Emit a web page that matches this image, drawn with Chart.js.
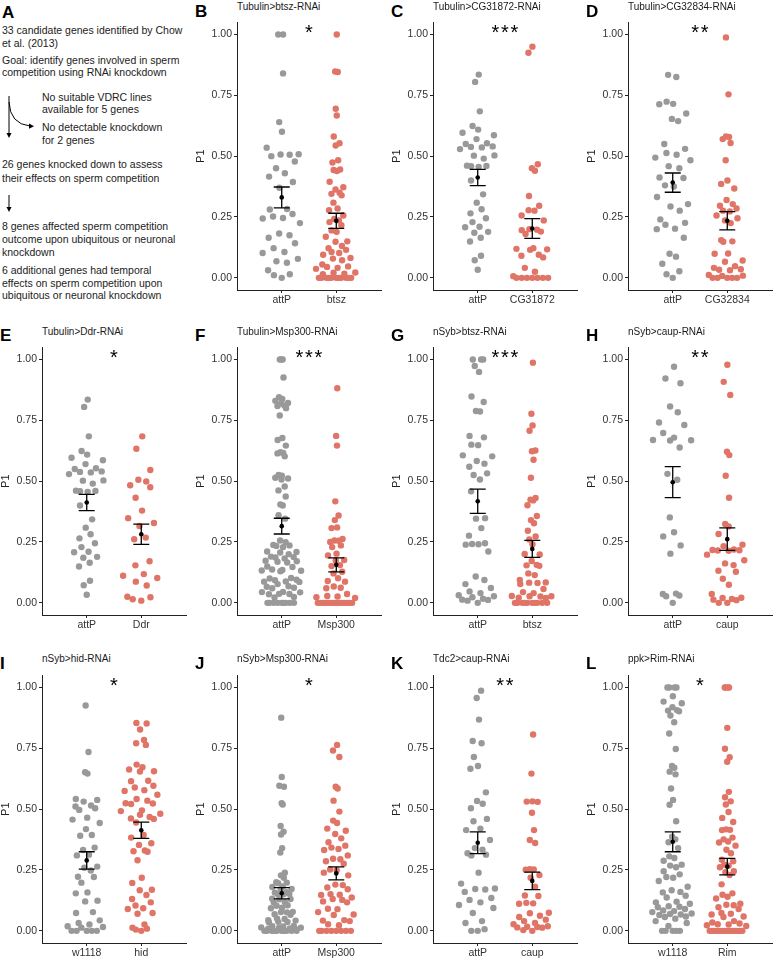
<!DOCTYPE html>
<html>
<head>
<meta charset="utf-8">
<script src="https://cdn.jsdelivr.net/npm/chart.js@4/dist/chart.umd.min.js"></script>
<style>
body{margin:0;background:#fff;width:775px;height:958px;position:relative;overflow:hidden;font-family:"Liberation Sans",Arial,sans-serif;}
canvas{position:absolute}
.lbl{position:absolute;font-weight:bold;font-size:17px;line-height:17px;color:#000}
.ttl{position:absolute;font-size:10px;line-height:10px;color:#1a1a1a;white-space:nowrap}
.txt{position:absolute;font-size:10.5px;line-height:12px;color:#222;white-space:nowrap}
svg{position:absolute;left:0;top:0}
</style>
</head>
<body>

<!-- panel A -->
<div class="lbl" style="left:2px;top:4px">A</div>
<div class="txt" style="left:2px;top:24px">33 candidate genes identified by Chow</div>
<div class="txt" style="left:2px;top:37px">et al. (2013)</div>
<div class="txt" style="left:2px;top:54px">Goal: identify genes involved in sperm</div>
<div class="txt" style="left:2px;top:66px">competition using RNAi knockdown</div>
<div class="txt" style="left:42px;top:91px">No suitable VDRC lines</div>
<div class="txt" style="left:42px;top:103px">available for 5 genes</div>
<div class="txt" style="left:42px;top:121px">No detectable knockdown</div>
<div class="txt" style="left:42px;top:134px">for 2 genes</div>
<div class="txt" style="left:2px;top:158px">26 genes knocked down to assess</div>
<div class="txt" style="left:2px;top:172px">their effects on sperm competition</div>
<div class="txt" style="left:2px;top:220px">8 genes affected sperm competition</div>
<div class="txt" style="left:2px;top:233px">outcome upon ubiquitous or neuronal</div>
<div class="txt" style="left:2px;top:246px">knockdown</div>
<div class="txt" style="left:2px;top:264px">6 additional genes had temporal</div>
<div class="txt" style="left:2px;top:277px">effects on sperm competition upon</div>
<div class="txt" style="left:2px;top:289px">ubiquitous or neuronal knockdown</div>
<svg width="60" height="220">
<g stroke="#000" stroke-width="1" fill="none">
<line x1="9" y1="96" x2="9" y2="134"/>
<path d="M9,102 Q10,124 30,126"/>
<line x1="9" y1="195" x2="9" y2="208"/>
</g>
<g fill="#000">
<path d="M6.5,133 L11.5,133 L9,138 Z"/>
<path d="M29,123.5 L34,126.3 L29,128.8 Z"/>
<path d="M6.5,207 L11.5,207 L9,212 Z"/>
</g>
</svg>

<script>
/* DATA */
const B_attP=[1,1,0.84,0.64,0.60,0.535,0.50,0.507,0.508,0.506,0.478,0.45,0.43,0.416,0.394,0.37,0.283,0.281,0.262,0.252,0.246,0.244,0.225,0.182,0.175,0.165,0.142,0.122,0.106,0.102,0.078,0.068,0.062,0.031,0.015,0.011,0];
const B_btsz=[1,0.848,0.846,0.695,0.667,0.581,0.553,0.544,0.483,0.474,0.445,0.443,0.439,0.395,0.372,0.363,0.35,0.345,0.339,0.309,0.285,0.278,0.256,0.242,0.236,0.229,0.216,0.195,0.189,0.169,0.15,0.148,0.131,0.122,0.115,0.106,0.102,0.095,0.082,0.079,0.072,0.055,0.047,0.045,0.041,0.037,0.022,0.021,0.017,0.015,0,0,0,0,0,0,0,0,0,0,0];
const C_attP=[0.835,0.805,0.684,0.624,0.609,0.596,0.586,0.57,0.553,0.55,0.54,0.538,0.536,0.529,0.503,0.502,0.49,0.461,0.46,0.459,0.456,0.40,0.343,0.309,0.282,0.265,0.245,0.229,0.21,0.208,0.189,0.185,0.165,0.149,0.091,0.072,0.033];
const C_CG31872=[0.95,0.925,0.467,0.45,0.44,0.336,0.296,0.278,0.276,0.256,0.236,0.198,0.18,0.2,0.196,0.19,0.122,0.119,0.115,0.117,0.095,0.091,0.084,0.041,0.025,0.007,0,0,0,0,0,0,0];
const D_attP=[0.834,0.825,0.724,0.715,0.713,0.675,0.653,0.644,0.55,0.53,0.513,0.506,0.494,0.483,0.459,0.45,0.412,0.41,0.38,0.375,0.332,0.303,0.293,0.276,0.24,0.226,0.218,0.202,0.2,0.165,0.099,0.087,0.058,0.027,0.015,0];
const D_CG32834=[0.988,0.754,0.581,0.579,0.57,0.554,0.483,0.4,0.386,0.367,0.32,0.303,0.296,0.285,0.276,0.273,0.256,0.245,0.236,0.225,0.155,0.15,0.148,0.1,0.099,0.071,0.066,0.048,0.041,0.035,0.033,0.031,0.012,0.009,0.008,0,0,0,0,0];
const E_attP=C_attP;
const E_Ddr=[0.684,0.633,0.546,0.506,0.499,0.483,0.475,0.432,0.379,0.348,0.328,0.316,0.268,0.261,0.171,0.154,0.118,0.111,0.102,0.087,0.071,0.025,0.023,0.015,0.009];
const F_attP=[1,1,1,0.926,0.845,0.838,0.83,0.821,0.819,0.811,0.809,0.80,0.77,0.677,0.669,0.646,0.619,0.616,0.614,0.602,0.525,0.522,0.514,0.511,0.507,0.478,0.462,0.437,0.404,0.40,0.36,0.346,0.256,0.249,0.238,0.236,0.234,0.229,0.211,0.209,0.207,0.2,0.19,0.188,0.186,0.182,0.173,0.171,0.169,0.166,0.149,0.147,0.137,0.135,0.133,0.132,0.13,0.102,0.1,0.095,0.093,0.088,0.087,0.086,0.077,0.068,0.066,0.062,0.06,0.045,0.044,0.043,0.037,0.036,0.035,0.024,0.022,0,0,0,0,0,0,0,0,0];
const F_Msp300=[0.882,0.686,0.646,0.417,0.359,0.34,0.31,0.307,0.262,0.256,0.255,0.25,0.236,0.229,0.202,0.195,0.176,0.174,0.155,0.151,0.128,0.121,0.101,0.09,0.087,0.067,0.062,0.06,0.036,0.028,0.026,0.023,0.02,0,0,0,0,0,0,0,0,0,0,0,0,0,0];
const G_attP=[1,1,1,0.973,0.949,0.848,0.825,0.788,0.786,0.686,0.68,0.65,0.648,0.606,0.602,0.583,0.572,0.559,0.532,0.525,0.507,0.458,0.348,0.346,0.307,0.276,0.245,0.242,0.241,0.239,0.211,0.108,0.094,0.077,0.061,0.047,0.04,0.031,0.027,0.023,0.017,0.013,0.012,0.009,0];
const G_btsz=[0.987,0.777,0.729,0.707,0.626,0.623,0.588,0.514,0.431,0.424,0.421,0.401,0.357,0.34,0.327,0.296,0.273,0.26,0.241,0.201,0.199,0.172,0.156,0.154,0.152,0.121,0.114,0.094,0.084,0.083,0.082,0.077,0.057,0.044,0.04,0.028,0.027,0.027,0.026,0.021,0.02,0,0,0,0,0,0,0,0,0,0];
const H_attP=[0.97,0.922,0.902,0.807,0.783,0.741,0.731,0.698,0.679,0.669,0.668,0.667,0.638,0.53,0.506,0.351,0.29,0.273,0.236,0.202,0.038,0.036,0.03,0.027,0];
const H_caup=[0.978,0.908,0.854,0.621,0.607,0.522,0.432,0.324,0.314,0.283,0.239,0.233,0.219,0.217,0.216,0.215,0.214,0.198,0.175,0.162,0.155,0.132,0.128,0.099,0.074,0.036,0.021,0.02,0.016,0.013,0.011,0,0];
const I_w1118=[0.926,0.735,0.652,0.646,0.542,0.538,0.531,0.515,0.511,0.504,0.497,0.465,0.457,0.443,0.418,0.394,0.391,0.342,0.332,0.313,0.31,0.264,0.259,0.248,0.222,0.221,0.198,0.158,0.154,0.124,0.121,0.077,0.073,0.043,0.032,0.026,0.019,0.016,0.013,0,0,0,0,0];
const I_hid=[0.854,0.852,0.827,0.784,0.771,0.764,0.683,0.672,0.663,0.656,0.655,0.617,0.615,0.596,0.589,0.578,0.575,0.559,0.542,0.535,0.524,0.523,0.521,0.495,0.492,0.481,0.477,0.468,0.462,0.46,0.445,0.394,0.383,0.36,0.353,0.327,0.33,0.325,0.29,0.218,0.197,0.169,0.167,0.147,0.131,0.117,0.104,0.093,0.09,0.073,0.07,0.026,0.013,0.009,0.005,0];
const J_attP=[0.876,0.632,0.596,0.592,0.524,0.519,0.431,0.407,0.396,0.34,0.322,0.239,0.228,0.218,0.2,0.198,0.196,0.182,0.18,0.172,0.17,0.159,0.157,0.152,0.151,0.15,0.132,0.131,0.13,0.118,0.116,0.105,0.103,0.095,0.093,0.078,0.077,0.076,0.068,0.066,0.051,0.049,0.044,0.042,0.037,0.036,0.035,0.02,0.019,0.018,0.014,0.013,0.012,0.01,0.009,0.008,0,0,0,0,0,0,0,0,0,0];
const J_Msp300=[0.764,0.741,0.714,0.592,0.585,0.535,0.49,0.453,0.443,0.42,0.411,0.398,0.38,0.364,0.35,0.342,0.336,0.332,0.31,0.296,0.294,0.286,0.276,0.252,0.249,0.239,0.228,0.19,0.188,0.178,0.171,0.151,0.148,0.147,0.137,0.131,0.127,0.121,0.117,0.091,0.089,0.077,0.067,0.065,0.044,0.042,0.04,0.027,0.023,0,0,0,0,0,0,0,0];
const K_attP=[0.987,0.957,0.868,0.78,0.771,0.714,0.677,0.666,0.569,0.534,0.522,0.504,0.46,0.45,0.42,0.414,0.373,0.34,0.333,0.319,0.313,0.31,0.239,0.194,0.174,0.172,0.17,0.16,0.135,0.127,0.117,0.106,0.094,0.073,0.04,0.032,0.007,0,0];
const K_caup=[0.807,0.646,0.532,0.531,0.53,0.485,0.414,0.373,0.361,0.253,0.252,0.251,0.229,0.218,0.181,0.145,0.143,0.115,0.113,0.111,0.074,0.072,0.062,0.057,0.046,0.04,0.032,0.027,0.019,0.017,0.016,0.014,0.013,0.003,0];
const L_w1118=[1,1,1,1,0.964,0.942,0.935,0.919,0.907,0.905,0.902,0.885,0.857,0.811,0.747,0.677,0.67,0.654,0.643,0.585,0.538,0.518,0.45,0.387,0.376,0.364,0.34,0.306,0.299,0.288,0.272,0.268,0.261,0.245,0.232,0.221,0.218,0.205,0.181,0.167,0.16,0.158,0.144,0.137,0.12,0.117,0.111,0.101,0.099,0.097,0.09,0.084,0.081,0.077,0.071,0.069,0.067,0.065,0.059,0.057,0.05,0.04,0.032,0.02,0,0,0,0,0];
const L_Rim=[1,1,1,1,0.834,0.748,0.713,0.695,0.571,0.549,0.532,0.519,0.488,0.464,0.447,0.417,0.415,0.414,0.383,0.376,0.367,0.363,0.35,0.333,0.319,0.292,0.286,0.272,0.268,0.261,0.245,0.241,0.229,0.191,0.154,0.148,0.14,0.133,0.111,0.107,0.105,0.097,0.09,0.073,0.07,0.067,0.059,0.057,0.04,0.034,0.03,0.027,0.026,0.023,0.02,0,0,0,0,0,0,0,0,0,0,0,0,0,0];

const letters=["B","C","D","E","F","G","H","I","J","K","L"];
const titles=["Tubulin>btsz-RNAi","Tubulin>CG31872-RNAi","Tubulin>CG32834-RNAi","Tubulin>Ddr-RNAi","Tubulin>Msp300-RNAi","nSyb>btsz-RNAi","nSyb>caup-RNAi","nSyb>hid-RNAi","nSyb>Msp300-RNAi","Tdc2>caup-RNAi","ppk>Rim-RNAi"];
const groups=[["attP","btsz"],["attP","CG31872"],["attP","CG32834"],["attP","Ddr"],["attP","Msp300"],["attP","btsz"],["attP","caup"],["w1118","hid"],["attP","Msp300"],["attP","caup"],["w1118","Rim"]];
const controls=[B_attP,C_attP,D_attP,E_attP,F_attP,G_attP,H_attP,I_w1118,J_attP,K_attP,L_w1118];
const knockdowns=[B_btsz,C_CG31872,D_CG32834,E_Ddr,F_Msp300,G_btsz,H_caup,I_hid,J_Msp300,K_caup,L_Rim];
const stars=[1,3,2,1,3,3,2,1,1,2,1];
const yTicks=[0,0.25,0.5,0.75,1];

/* LAYOUT */
const panelRow=[0,0,0,1,1,1,1,2,2,2,2];
const panelCol=[1,2,3,0,1,2,3,0,1,2,3];
const COLS=[42,237,433,628], ROWS=[16,341,669];
const TITLE_TOP=[2,327,654], LETTER_TOP=[3,327,655];
const PLOT_W=145, PLOT_H=274, YAX=48, PAD_L=2, PAD_T=2, PAD_R=3, XAX=22;
const X_MIN=0.18, X_MAX=2.82;
const FONT='"Liberation Sans", Arial, sans-serif';
const GRAY="#999999", RED="#E07467";

/* QUASIRANDOM OFFSETS (like ggbeeswarm) */
function vdc(n){
let v=0,d=1;
while(n>0){d*=2;v+=(n%2)/d;n=Math.floor(n/2);}
return v;
}
function quasi(vals,width){
const n=vals.length;
const s=[...vals].sort((a,b)=>a-b);
const m=vals.reduce((a,b)=>a+b,0)/n;
const sd=Math.sqrt(vals.reduce((a,b)=>a+(b-m)*(b-m),0)/(n-1));
const q=p=>{const h=(n-1)*p,lo=Math.floor(h);return s[lo]+(h-lo)*((s[lo+1]??s[lo])-s[lo]);};
let lo=Math.min(sd,(q(0.75)-q(0.25))/1.34);
if(!(lo>0)) lo=sd||Math.abs(s[0])||1;
const bw=0.9*lo*Math.pow(n,-0.2)*0.5;
const dens=y=>vals.reduce((a,v)=>a+Math.exp(-0.5*((y-v)/bw)**2),0);
let max=0;
const a=s[0]-3*bw,b=s[n-1]+3*bw;
for(let i=0;i<512;i++) max=Math.max(max,dens(a+(b-a)*i/511));
const order=vals.map((v,i)=>i).sort((i,j)=>vals[i]-vals[j]||i-j);
const off=new Array(n);
order.forEach((idx,r)=>{off[idx]=(vdc(r+1)*2-1)*dens(vals[idx])/max*width;});
return off;
}
function stats(vals){
const n=vals.length;
const m=vals.reduce((a,b)=>a+b,0)/n;
const sd=Math.sqrt(vals.reduce((a,b)=>a+(b-m)*(b-m),0)/(n-1));
return {m:m,se:sd/Math.sqrt(n)};
}

/* PANELS */
function addPanel(i){
const ax=COLS[panelCol[i]], top=ROWS[panelRow[i]];

let d=document.createElement("div");
d.className="lbl"; d.textContent=letters[i];
d.style.left=(ax-42)+"px"; d.style.top=LETTER_TOP[panelRow[i]]+"px";
document.body.appendChild(d);
d=document.createElement("div");
d.className="ttl"; d.textContent=titles[i];
d.style.left=ax+"px"; d.style.top=TITLE_TOP[panelRow[i]]+"px";
document.body.appendChild(d);

const cv=document.createElement("canvas");
const W=PAD_L+YAX+PLOT_W+PAD_R, H=PAD_T+PLOT_H+XAX;
cv.width=W; cv.height=H;
cv.style.left=(ax-PAD_L-YAX)+"px"; cv.style.top=(top-PAD_T)+"px";
cv.style.width=W+"px"; cv.style.height=H+"px";
document.body.appendChild(cv);

const ctrl=controls[i], kd=knockdowns[i], labels=groups[i];
const oc=quasi(ctrl,0.4), ok=quasi(kd,0.4);
const st=[stats(ctrl),stats(kd)];

const extras={
id:"extras"+i,
afterDatasetsDraw(chart){
const {ctx,scales:{x,y}}=chart;
ctx.save();
ctx.strokeStyle="#000"; ctx.lineWidth=1.3;
st.forEach((s,k)=>{
const px=x.getPixelForValue(k+1);
const yt=y.getPixelForValue(s.m+s.se), yb=y.getPixelForValue(s.m-s.se);
ctx.beginPath();
ctx.moveTo(px-8,yt);ctx.lineTo(px+8,yt);
ctx.moveTo(px,yt);ctx.lineTo(px,yb);
ctx.moveTo(px-8,yb);ctx.lineTo(px+8,yb);
ctx.stroke();
ctx.fillStyle="#000";
ctx.beginPath();ctx.arc(px,y.getPixelForValue(s.m),2.3,0,Math.PI*2);ctx.fill();
});
ctx.fillStyle="#000";
ctx.font="20px "+FONT;
ctx.textAlign="center"; ctx.textBaseline="alphabetic";
const mx=x.getPixelForValue(1.5), my=y.getPixelForValue(1)-7+11.5;
for(let k=0;k<stars[i];k++) ctx.fillText("*",mx+(k-(stars[i]-1)/2)*9.5,my);
ctx.restore();
}
};

new Chart(cv,{
type:"scatter",
data:{datasets:[
{data:kd.map((v,k)=>({x:2+ok[k],y:v})),backgroundColor:RED,pointRadius:3.2,borderWidth:0},
{data:ctrl.map((v,k)=>({x:1+oc[k],y:v})),backgroundColor:GRAY,pointRadius:3.2,borderWidth:0}
]},
options:{
responsive:false,animation:false,events:[],
layout:{padding:{top:PAD_T,left:PAD_L,right:PAD_R,bottom:0}},
plugins:{legend:{display:false},tooltip:{enabled:false}},
scales:{
x:{type:"linear",min:X_MIN,max:X_MAX,
afterBuildTicks:s=>{s.ticks=[{value:1},{value:2}];},
afterFit:s=>{s.height=XAX;},
ticks:{callback:v=>labels[Math.round(v)-1],font:{size:10.5,family:FONT},color:"#333",padding:1,maxRotation:0,autoSkip:false},
grid:{display:true,drawOnChartArea:false,drawTicks:true,tickLength:3,color:"#222"},
border:{display:true,color:"#222",width:1}},
y:{type:"linear",min:-0.05,max:1.05,
afterBuildTicks:s=>{s.ticks=yTicks.map(v=>({value:v}));},
afterFit:s=>{s.width=YAX;},
ticks:{callback:v=>v.toFixed(2),font:{size:10.5,family:FONT},color:"#333",padding:2},
grid:{display:true,drawOnChartArea:false,drawTicks:true,tickLength:3,color:"#222"},
border:{display:true,color:"#222",width:1},
title:{display:true,text:"P1",font:{size:11,family:FONT},color:"#222",padding:{top:5,bottom:0}}}
}
},
plugins:[extras]
});
}

for(let i=0;i<letters.length;i++) addPanel(i);
</script>
</body>
</html>
